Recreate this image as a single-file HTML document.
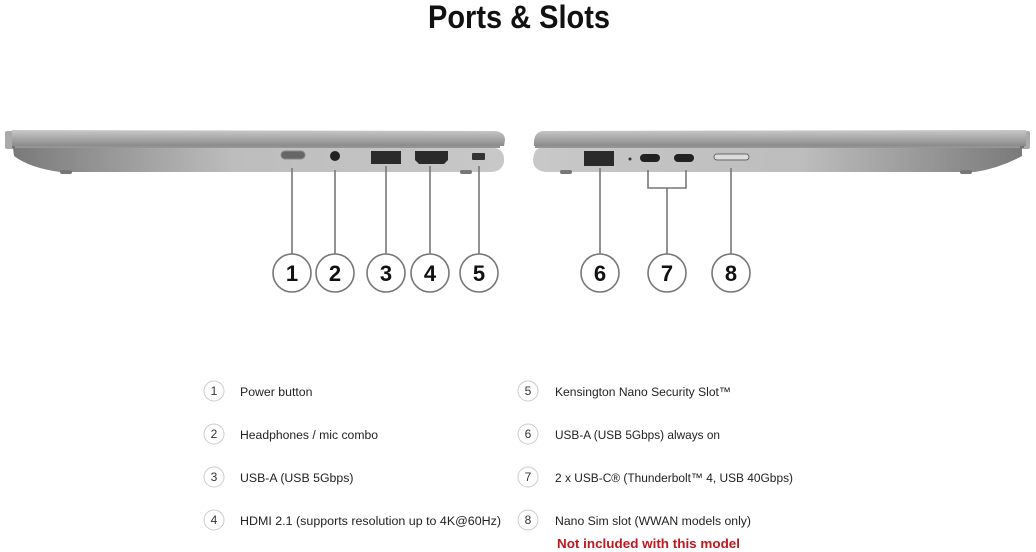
<!DOCTYPE html>
<html><head><meta charset="utf-8"><style>
html,body{margin:0;padding:0;background:#fff}
svg{display:block}
</style></head><body>
<svg width="1036" height="552" viewBox="0 0 1036 552" xmlns="http://www.w3.org/2000/svg" font-family="Liberation Sans, sans-serif">
<defs>
<linearGradient id="lid" x1="0" y1="0" x2="0" y2="1"><stop offset="0" stop-color="#c9c9c9"/><stop offset="0.5" stop-color="#a9a9a9"/><stop offset="1" stop-color="#8a8a8a"/></linearGradient>
<linearGradient id="base" x1="0" y1="0" x2="1" y2="0"><stop offset="0" stop-color="#7a7a7a"/><stop offset="0.45" stop-color="#bdbdbd"/><stop offset="1" stop-color="#c8c8c8"/></linearGradient>
<linearGradient id="base2" x1="0" y1="0" x2="1" y2="0"><stop offset="0" stop-color="#c8c8c8"/><stop offset="0.55" stop-color="#bdbdbd"/><stop offset="1" stop-color="#7a7a7a"/></linearGradient>
</defs>
<text x="428" y="28" font-size="32" font-weight="bold" fill="#111" textLength="182" lengthAdjust="spacingAndGlyphs">Ports &amp; Slots</text>

<!-- left laptop -->
<rect x="5" y="131" width="10" height="18" rx="2" fill="#aaa"/>
<path d="M12 130 L495 131 Q505 132 505 140 L504 146 L12 146 Z" fill="url(#lid)"/>
<path d="M13 148 L495 148 Q505 150 504 162 Q502 172 490 172 L60 172 Q30 168 14 156 Z" fill="url(#base)"/>
<line x1="12" y1="147" x2="500" y2="147" stroke="#555" stroke-width="1.2"/>
<rect x="60" y="170" width="12" height="4" rx="2" fill="#777"/>
<rect x="460" y="170" width="12" height="4" rx="2" fill="#777"/>
<rect x="281" y="151" width="24" height="8" rx="4" fill="#666" stroke="#888"/>
<circle cx="335" cy="156" r="5" fill="#222"/>
<rect x="371" y="151" width="30" height="13" fill="#2a2a2a"/>
<path d="M415 151 L448 151 L448 160 L444 164 L419 164 L415 160 Z" fill="#2a2a2a"/>
<rect x="472" y="153" width="13" height="7" rx="1" fill="#333"/>
<!-- right laptop -->
<rect x="1020" y="131" width="10" height="18" rx="2" fill="#aaa"/>
<path d="M543 131 L1026 130 L1026 146 L534 146 Q533 132 543 131 Z" fill="url(#lid)"/>
<path d="M540 148 L1022 148 L1022 156 Q1000 168 975 172 L545 172 Q533 170 533 160 Q534 149 540 148 Z" fill="url(#base2)"/>
<line x1="535" y1="147" x2="1024" y2="147" stroke="#555" stroke-width="1.2"/>
<rect x="560" y="170" width="12" height="4" rx="2" fill="#777"/>
<rect x="960" y="170" width="12" height="4" rx="2" fill="#777"/>
<rect x="584" y="151" width="30" height="15" fill="#2a2a2a"/>
<circle cx="630" cy="159" r="1.5" fill="#333"/>
<rect x="640" y="154" width="20" height="8" rx="4" fill="#222"/>
<rect x="674" y="154" width="20" height="8" rx="4" fill="#222"/>
<rect x="714" y="154" width="35" height="6" rx="3" fill="#ddd" stroke="#666"/>

<g stroke="#777" stroke-width="1.6" fill="none">
<line x1="292" y1="168" x2="292" y2="254"/>
<line x1="335" y1="170" x2="335" y2="254"/>
<line x1="386" y1="166" x2="386" y2="254"/>
<line x1="430" y1="166" x2="430" y2="254"/>
<line x1="479" y1="166" x2="479" y2="254"/>
<line x1="600" y1="168" x2="600" y2="254"/>
<path d="M648 170 V188 H686 V170 M667 188 V254"/>
<line x1="731" y1="168" x2="731" y2="254"/>
</g>
<g stroke="#777" stroke-width="1.6" fill="#fff">
<circle cx="292" cy="273" r="19"/><circle cx="335" cy="273" r="19"/><circle cx="386" cy="273" r="19"/><circle cx="430" cy="273" r="19"/><circle cx="479" cy="273" r="19"/>
<circle cx="600" cy="273" r="19"/><circle cx="667" cy="273" r="19"/><circle cx="731" cy="273" r="19"/>
</g>
<g font-size="22" font-weight="bold" fill="#111" text-anchor="middle">
<text x="292" y="281">1</text><text x="335" y="281">2</text><text x="386" y="281">3</text><text x="430" y="281">4</text><text x="479" y="281">5</text>
<text x="600" y="281">6</text><text x="667" y="281">7</text><text x="731" y="281">8</text>
</g>

<g stroke="#ccc" stroke-width="1" fill="#fff">
<circle cx="214" cy="391" r="10"/><circle cx="214" cy="434" r="10"/><circle cx="214" cy="477" r="10"/><circle cx="214" cy="520" r="10"/>
<circle cx="528" cy="391" r="10"/><circle cx="528" cy="434" r="10"/><circle cx="528" cy="477" r="10"/><circle cx="528" cy="520" r="10"/>
</g>
<g font-size="12" fill="#333" text-anchor="middle">
<text x="214" y="395">1</text><text x="214" y="438">2</text><text x="214" y="481">3</text><text x="214" y="524">4</text>
<text x="528" y="395">5</text><text x="528" y="438">6</text><text x="528" y="481">7</text><text x="528" y="524">8</text>
</g>
<g font-size="12.3" fill="#222">
<text x="240" y="396">Power button</text>
<text x="240" y="439" textLength="138" lengthAdjust="spacingAndGlyphs">Headphones / mic combo</text>
<text x="240" y="482">USB-A (USB 5Gbps)</text>
<text x="240" y="525" textLength="261" lengthAdjust="spacingAndGlyphs">HDMI 2.1 (supports resolution up to 4K@60Hz)</text>
<text x="555" y="396" textLength="176" lengthAdjust="spacingAndGlyphs">Kensington Nano Security Slot™</text>
<text x="555" y="439" textLength="165" lengthAdjust="spacingAndGlyphs">USB-A (USB 5Gbps) always on</text>
<text x="555" y="482" textLength="238" lengthAdjust="spacingAndGlyphs">2 x USB-C® (Thunderbolt™ 4, USB 40Gbps)</text>
<text x="555" y="525" textLength="196" lengthAdjust="spacingAndGlyphs">Nano Sim slot (WWAN models only)</text>
</g>
<text x="557" y="548" font-size="13" font-weight="bold" fill="#c0161c" textLength="183" lengthAdjust="spacingAndGlyphs">Not included with this model</text>
</svg>
</body></html>
